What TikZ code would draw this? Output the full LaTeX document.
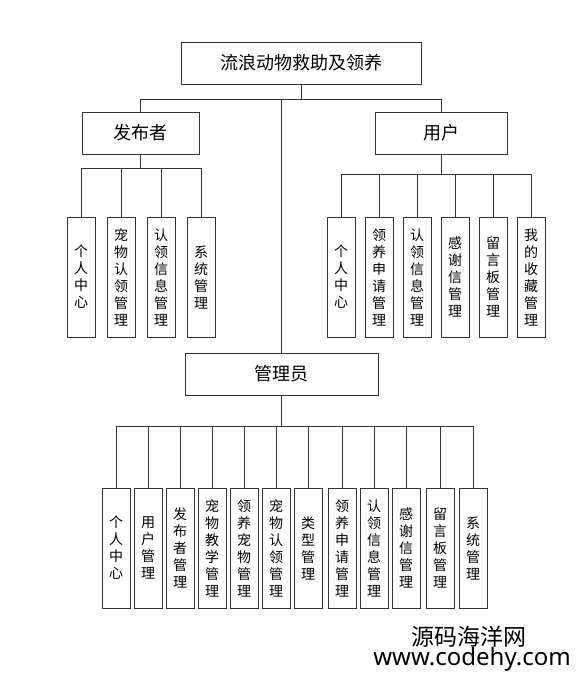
\documentclass[tikz,border=0pt]{standalone}
\usepackage{fontspec}
\newfontfamily\cjk{Noto Sans CJK SC}
\newfontfamily\latinwm{Noto Sans}
\begin{document}
\begin{tikzpicture}[x=1pt,y=-1pt,
  conn/.style={draw=black!80, line width=1pt},
  headbox/.style={draw=black!80, line width=1pt, minimum height=42pt, inner sep=0pt,
    font=\cjk\fontsize{18}{18}\selectfont},
  leaf/.style={draw=black!80, line width=1pt, minimum width=28pt, minimum height=120pt,
    inner sep=0pt, align=center, font=\cjk\fontsize{14}{17}\selectfont},
  wm/.style={inner sep=0pt}]
\useasboundingbox (0,0) rectangle (576,678);
\fill[white] (0,0) rectangle (576,678);
% head boxes
\node[headbox, minimum width=240pt] (root) at (301,63) {流浪动物救助及领养};
\node[headbox, minimum width=117pt] (pub) at (140.5,133) {发布者};
\node[headbox, minimum width=132pt] (user) at (441,133) {用户};
\node[headbox, minimum width=193pt] (mgr) at (281.5,374) {管理员};
% top level connectors
\coordinate (bus0) at (301,99);
\draw[conn] (root.south) -- (bus0);
\draw[conn] (pub.north) -- (pub.north |- bus0) -- (user.north |- bus0) -- (user.north);
\draw[conn] (mgr.north) -- (mgr.north |- bus0);
% publisher leaves
\node[leaf] (p1) at (81,277) {个\\人\\中\\心};
\node[leaf] (p2) at (121,277) {宠\\物\\认\\领\\管\\理};
\node[leaf] (p3) at (161,277) {认\\领\\信\\息\\管\\理};
\node[leaf] (p4) at (201,277) {系\\统\\管\\理};
\coordinate (pbus) at (140.5,168);
\draw[conn] (pub.south) -- (pbus);
\draw[conn] (p1.north) -- (p1.north |- pbus) -- (p4.north |- pbus) -- (p4.north);
\foreach \n in {p2,p3} \draw[conn] (\n.north) -- (\n.north |- pbus);
% user leaves
\node[leaf] (u1) at (341,277) {个\\人\\中\\心};
\node[leaf] (u2) at (379,277) {领\\养\\申\\请\\管\\理};
\node[leaf] (u3) at (417,277) {认\\领\\信\\息\\管\\理};
\node[leaf] (u4) at (455,277) {感\\谢\\信\\管\\理};
\node[leaf] (u5) at (493,277) {留\\言\\板\\管\\理};
\node[leaf] (u6) at (531,277) {我\\的\\收\\藏\\管\\理};
\coordinate (ubus) at (441,174);
\draw[conn] (user.south) -- (ubus);
\draw[conn] (u1.north) -- (u1.north |- ubus) -- (u6.north |- ubus) -- (u6.north);
\foreach \n in {u2,u3,u4,u5} \draw[conn] (\n.north) -- (\n.north |- ubus);
% manager leaves
\node[leaf] (m1) at (116,548) {个\\人\\中\\心};
\node[leaf] (m2) at (148,548) {用\\户\\管\\理};
\node[leaf] (m3) at (180,548) {发\\布\\者\\管\\理};
\node[leaf] (m4) at (212,548) {宠\\物\\教\\学\\管\\理};
\node[leaf] (m5) at (244,548) {领\\养\\宠\\物\\管\\理};
\node[leaf] (m6) at (276,548) {宠\\物\\认\\领\\管\\理};
\node[leaf] (m7) at (308,548) {类\\型\\管\\理};
\node[leaf] (m8) at (342,548) {领\\养\\申\\请\\管\\理};
\node[leaf] (m9) at (374,548) {认\\领\\信\\息\\管\\理};
\node[leaf] (m10) at (406,548) {感\\谢\\信\\管\\理};
\node[leaf] (m11) at (440,548) {留\\言\\板\\管\\理};
\node[leaf] (m12) at (473,548) {系\\统\\管\\理};
\coordinate (mbus) at (281.5,426);
\draw[conn] (mgr.south) -- (mbus);
\draw[conn] (m1.north) -- (m1.north |- mbus) -- (m12.north |- mbus) -- (m12.north);
\foreach \n in {m2,m3,m4,m5,m6,m7,m8,m9,m10,m11} \draw[conn] (\n.north) -- (\n.north |- mbus);
% watermark
\node[wm, font=\cjk\fontsize{23}{23}\selectfont] (wm1) at (469,637) {源码海洋网};
\node[wm, font=\latinwm\fontsize{24}{24}\selectfont, anchor=base] (wm2) at (472,665) {www.codehy.com};
\end{tikzpicture}
\end{document}
